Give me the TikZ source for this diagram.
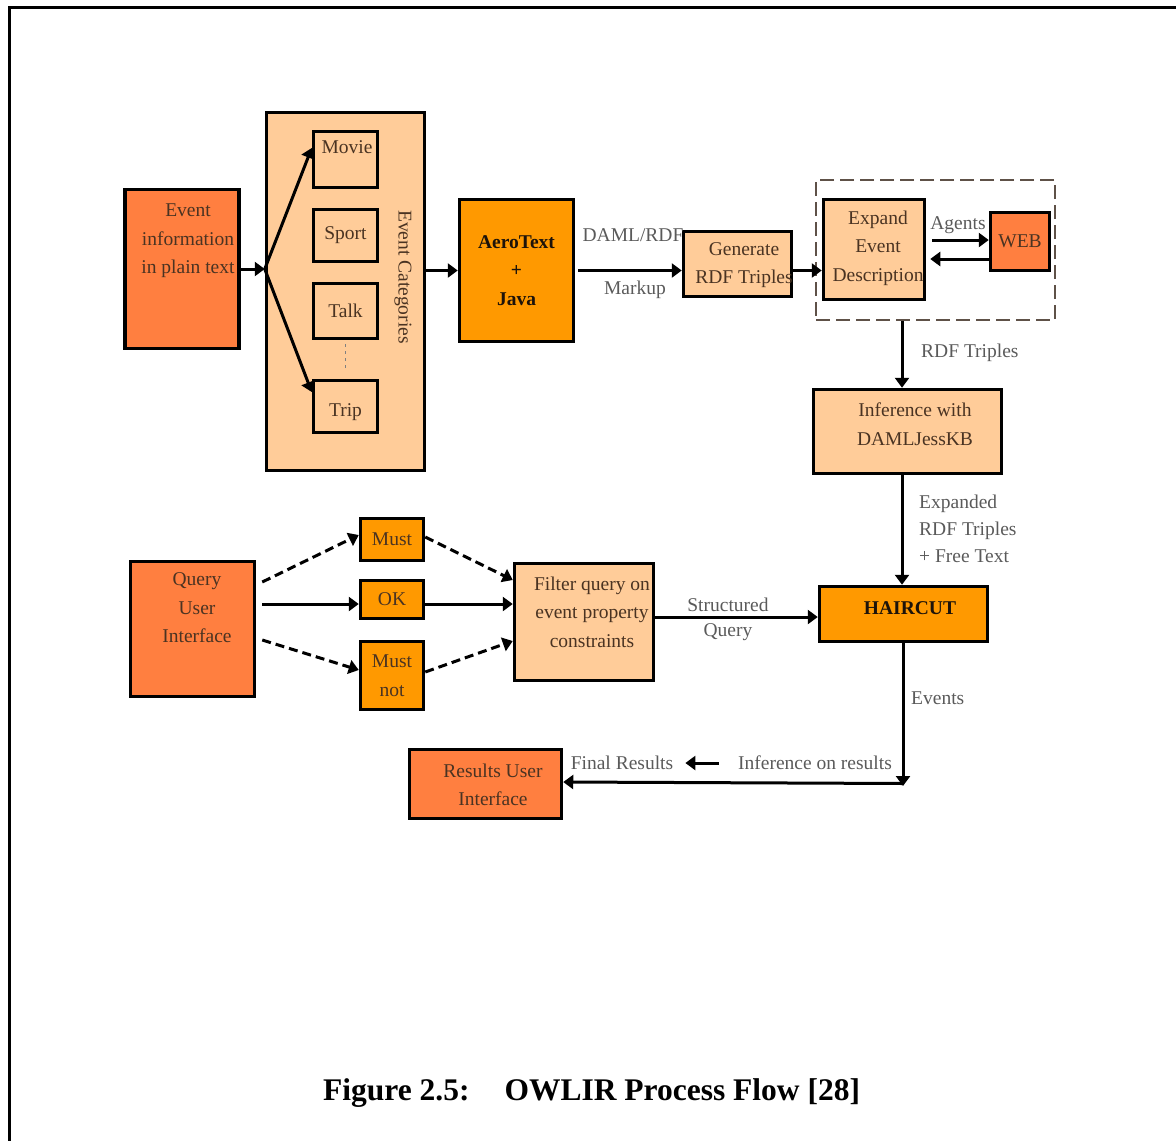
\documentclass[tikz,border=0pt]{standalone}
\usepackage{fontspec}
\setmainfont{Liberation Serif}
\usetikzlibrary{arrows.meta}
\definecolor{coral}{HTML}{FF7F40}
\definecolor{amber}{HTML}{FF9900}
\definecolor{peach}{HTML}{FFCC99}
\definecolor{boxtext}{HTML}{4A3322}
\definecolor{labelgray}{HTML}{5A5A5A}
\definecolor{dashgray}{HTML}{5E5148}
\begin{document}
\begin{tikzpicture}[x=1pt,y=-1pt,
  box/.style={draw,line width=3.5pt,inner sep=0pt},
  txt/.style={text=boxtext,font=\fontsize{19.5}{28.5}\selectfont,align=center,inner sep=0pt},
  bold/.style={txt,text=black!85!brown,font=\fontsize{19.5}{28.5}\selectfont\bfseries},
  lbl/.style={text=labelgray,font=\fontsize{19.5}{27}\selectfont,inner sep=0pt},
  arr/.style={line width=3pt,-{Triangle[length=10pt,width=14pt]}},
  darr/.style={arr,dash pattern=on 9pt off 5pt}]
\useasboundingbox (0,0) rectangle (1176,1141);
\draw[line width=2.5pt] (9.5,1141) -- (9.5,7.5) -- (1176,7.5);

% input side
\node[box,fill=coral,minimum width=114pt,minimum height=159pt] (info) at (182,269) {};
\node[txt] (infotxt) at (188,241) {Event\\information\\in plain text};
\node[box,fill=peach,minimum width=158pt,minimum height=358pt] (cats) at (345.5,291.5) {};
\node[box,fill=peach,minimum width=64pt,minimum height=56pt] (movie) at (345.5,159.5) {};
\node[txt] (movietxt) at (347,147) {Movie};
\node[box,fill=peach,minimum width=64pt,minimum height=52pt,txt] (sport) at (345.5,235.5) {Sport};
\node[box,fill=peach,minimum width=64pt,minimum height=55pt,txt] (talk) at (345.5,311) {Talk};
\node[box,fill=peach,minimum width=64pt,minimum height=52pt] (trip) at (345.5,406.5) {};
\node[txt] (triptxt) at (345.5,412) {Trip};
\node[txt,rotate=-90] (catstxt) at (403,277) {Event Categories};
\draw[gray,line width=1pt,dash pattern=on 3pt off 4pt,shorten <=4pt,shorten >=10pt] (talk.south) -- (trip.north);

\node[box,fill=amber,minimum width=114pt,minimum height=142pt,bold] (aero) at (516.5,270.5) {AeroText\\+\\Java};
\node[box,fill=peach,minimum width=108pt,minimum height=65pt] (gen) at (737.5,264) {};
\node[txt] (gentxt) at (744,265) {Generate\\RDF Triples};

% expansion
\node[draw=dashgray,line width=2.5pt,dash pattern=on 14pt off 6pt,minimum width=239pt,minimum height=140pt] (group) at (935.5,250) {};
\node[box,fill=peach,minimum width=101pt,minimum height=100pt] (expand) at (874,249.5) {};
\node[txt] (expandtxt) at (878,248) {Expand\\Event\\Description};
\node[box,fill=coral,minimum width=59pt,minimum height=58pt,txt] (web) at (1020,241.5) {WEB};
\node[box,fill=peach,minimum width=188pt,minimum height=84pt] (infer) at (907.5,431.5) {};
\node[txt] (infertxt) at (915,424) {Inference with\\DAMLJessKB};
\node[box,fill=amber,minimum width=168pt,minimum height=55pt] (hair) at (903.5,614) {};
\node[bold] (hairtxt) at (910,608) {HAIRCUT};
\coordinate (col) at (902,0);

% query side
\node[box,fill=coral,minimum width=124pt,minimum height=135pt] (query) at (192.5,629) {};
\node[txt] (querytxt) at (197,608) {Query\\User\\Interface};
\node[box,fill=amber,minimum width=63pt,minimum height=42pt,txt] (must) at (392,539.5) {Must};
\node[box,fill=amber,minimum width=63pt,minimum height=38pt,txt] (ok) at (392,599.5) {OK};
\node[box,fill=amber,minimum width=63pt,minimum height=68pt,txt] (mustnot) at (392,675.5) {Must\\not};
\node[box,fill=peach,minimum width=139pt,minimum height=117pt] (filter) at (584,622) {};
\node[txt] (filtertxt) at (592,612) {Filter query on\\event property\\constraints};
\node[box,fill=coral,minimum width=152pt,minimum height=69pt] (results) at (485.5,784) {};
\node[txt] (resultstxt) at (493,785) {Results User\\Interface};

% labels
\node[lbl] (damltxt) at (633,235) {DAML/RDF};
\node[lbl] (markuptxt) at (635,290) {Markup};
\node[lbl] (agentstxt) at (958,225) {Agents};
\node[lbl,anchor=west] (rdftxt) at (921,353) {RDF Triples};
\node[lbl,anchor=west,align=left] (exptxt) at (919,529) {Expanded\\RDF Triples\\+ Free Text};
\node[lbl] (structtxt) at (728,605) {Structured};
\node[lbl] (querylbl) at (728,632) {Query};
\node[lbl,anchor=west] (eventstxt) at (911,698) {Events};
\node[lbl] (infres) at (815,763) {Inference on results};
\node[lbl] (finres) at (622,763) {Final Results};
\coordinate (corner) at (903,782);

% connectors
\coordinate (split) at (cats.west |- info.east);
\draw[arr] (info.east) -- (split);
\draw[arr] (split) -- ([yshift=11.5pt]movie.west);
\draw[arr] (split) -- ([yshift=14.5pt]trip.west);
\draw[arr] (cats.east |- aero.west) -- (aero.west);
\draw[arr] ([xshift=3pt]aero.east) -- (aero.east -| gen.west);
\draw[arr] (gen.east |- aero.east) -- (expand.west |- aero.east);
\draw[arr] ([shift={(6,-9.5)}]expand.east) -- ([yshift=1.5pt]web.west);
\draw[arr] ([yshift=-17.5pt]web.west) -- ([shift={(4,9.5)}]expand.east);
\draw[arr] (group.south -| col) -- (infer.north -| col);
\draw[arr] (infer.south -| col) -- (hair.north -| col);
\draw[darr] ([shift={(6,-47)}]query.east) -- ([yshift=4.5pt]must.west);
\draw[arr] ([shift={(6,-25)}]query.east) -- ([yshift=-4.5pt]ok.west);
\draw[darr] ([shift={(6,11)}]query.east) -- ([yshift=5.5pt]mustnot.west);
\draw[darr] ([yshift=2.5pt]must.east) -- ([yshift=42pt]filter.west);
\draw[arr] ([yshift=-4.5pt]ok.east) -- ([yshift=18pt]filter.west);
\draw[darr] ([yshift=3.5pt]mustnot.east) -- ([yshift=-19pt]filter.west);
\draw[arr] ([yshift=5pt]filter.east) -- ([yshift=-3pt]hair.west);
\draw[arr] (hair.south -| corner) -- ([yshift=-4pt]corner);
\draw[arr] ([yshift=-1.5pt]corner) -- ([yshift=2pt]results.east);
\draw[arr,shorten <=19pt,shorten >=12pt] (infres.west) -- (finres.east);

\node[anchor=west,font=\fontsize{31.5}{36}\selectfont\bfseries,inner sep=0pt] (caption) at (323,1093) {Figure 2.5:\hspace*{35pt}OWLIR Process Flow [28]};
\end{tikzpicture}
\end{document}
